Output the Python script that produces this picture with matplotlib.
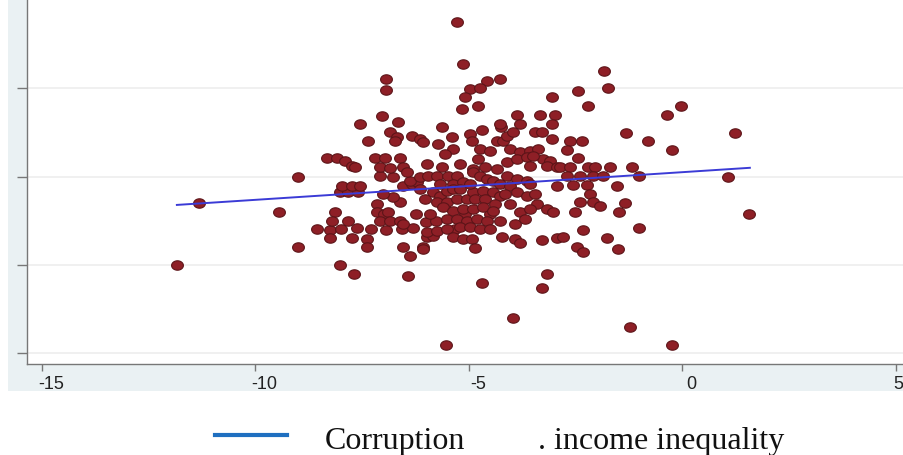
import numpy as np
import matplotlib
matplotlib.use("Agg")
import matplotlib.pyplot as plt
from matplotlib.path import Path
from matplotlib.patches import Rectangle
from matplotlib.lines import Line2D
import matplotlib.transforms as mtrans

plt.rcParams["axes.unicode_minus"] = False

# corruption (x) vs income inequality (y)
corr_left = [-11.84, -11.32, -9.45, -9.00, -9.00]
ineq_left = [0.00, 0.70, 0.60, 1.00, 0.20]

corr_a = [-8.56, -8.26, -8.00, -7.62, -7.30, -6.94, -6.57, -6.31,
          -8.26, -7.74, -7.39, -7.39, -8.02, -7.69, -6.43, -6.55, -6.38,
          -6.08, -5.98, -5.84, -8.14, -8.21, -7.83,
          -7.15, -7.15, -6.99, -6.90, -7.08, -6.85, -6.62, -6.55,
          -6.62, -6.78, -7.01, -6.24, -6.01, -5.77]
ineq_a = [0.41, 0.40, 0.41, 0.42, 0.41, 0.40, 0.41, 0.42,
          0.31, 0.31, 0.29, 0.20, 0.00, -0.10, -0.12, 0.20, 0.10,
          0.20, 0.32, 0.33, 0.60, 0.50, 0.50,
          0.69, 0.60, 0.58, 0.60, 0.50, 0.50, 0.50, 0.46,
          0.71, 0.77, 0.80, 0.58, 0.49, 0.50]

corr_b = [-8.02, -7.83, -7.60, -7.97, -7.74, -7.55,
          -6.55, -6.34, -6.22, -6.38, -6.15, -7.08, -6.78,
          -8.33, -8.09, -7.90, -7.74, -7.67,
          -7.20, -6.97, -6.62, -7.08, -6.85, -6.55, -6.45,
          -7.55, -7.37, -7.04, -6.66, -6.85, -6.69, -6.73, -6.34, -6.15,
          -6.94, -6.94]
ineq_b = [0.83, 0.83, 0.83, 0.89, 0.89, 0.89,
          0.89, 0.92, 0.94, 0.95, 1.00, 1.01, 1.00,
          1.21, 1.21, 1.18, 1.12, 1.11,
          1.21, 1.21, 1.21, 1.11, 1.10, 1.11, 1.05,
          1.60, 1.40, 1.69, 1.62, 1.51, 1.45, 1.40, 1.46, 1.43,
          2.10, 1.98]

corr_c = [-5.28, -5.14, -4.58, -4.27, -4.98, -4.74, -5.09, -4.79, -5.16,
          -5.63, -4.98, -4.70, -4.93, -6.08, -5.73, -5.40, -5.37,
          -4.74, -4.51, -4.34, -4.20, -4.25, -4.11,
          -4.27, -3.88, -3.81, -3.97,
          -3.34, -2.99, -3.45, -3.29, -3.06, -3.06, -3.06,
          -4.04, -3.81, -3.57, -3.38, -3.27, -3.10, -3.17, -2.94,
          -5.98, -5.63, -5.21, -4.91, -4.63, -4.34,
          -4.11, -3.88, -3.64, -3.57, -3.50]
ineq_c = [2.75, 2.27, 2.08, 2.11, 1.99, 2.00, 1.90, 1.80, 1.76,
          1.56, 1.48, 1.53, 1.40, 1.39, 1.37, 1.45, 1.31,
          1.31, 1.29, 1.40, 1.40, 1.56, 1.46,
          1.60, 1.70, 1.60, 1.51,
          1.70, 1.70, 1.51, 1.51, 1.60, 1.90, 1.43,
          1.31, 1.28, 1.29, 1.31, 1.20, 1.18, 1.12, 1.11,
          1.14, 1.11, 1.14, 1.09, 1.11, 1.09,
          1.17, 1.20, 1.22, 1.12, 1.23]

corr_d = [-5.96, -5.75, -5.49, -5.28, -5.37, -5.14,
          -4.91, -4.74, -4.58, -4.44, -4.27, -4.11, -3.88, -3.64,
          -5.84, -5.68, -5.52, -5.37, -5.75, -5.52, -5.28, -5.05,
          -4.91, -4.67, -4.44, -4.27, -4.04, -3.88, -3.64,
          -3.41, -3.17, -3.03]
ineq_d = [1.01, 1.01, 1.01, 1.01, 0.92, 0.94,
          1.05, 1.01, 0.97, 0.95, 0.92, 1.01, 0.97, 0.95,
          0.83, 0.78, 0.84, 0.86, 0.71, 0.71, 0.75, 0.75,
          0.83, 0.84, 0.83, 0.78, 0.89, 0.83, 0.78,
          0.69, 0.63, 0.60]

corr_core = [-6.15, -6.03, -5.91, -5.68, -5.21, -4.98, -5.09, -4.86, -4.63,
             -4.51, -4.16, -4.04, -3.92, -4.27, -4.39, -5.33, -4.79, -5.56,
             -3.57, -3.45]
ineq_core = [0.86, 0.75, 0.58, 0.92, 0.86, 0.92, 0.58, 0.75, 0.75,
             0.58, 0.80, 0.69, 0.46, 0.50, 0.69, 0.41, 1.20, 1.26,
             0.92, 0.80]

corr_e = [-5.61, -5.37, -5.14, -4.91, -4.67, -4.44,
          -5.52, -5.28, -5.05, -4.81, -4.58, -3.81, -3.57, -3.69,
          -5.98, -5.75, -5.52, -5.21, -4.98, -4.74, -4.51,
          -5.37, -5.14, -4.93, -4.86, -6.08, -4.23, -3.92, -3.81,
          -3.29, -2.94, -2.80, -2.47, -2.33,
          -4.70, -3.17, -3.29, -3.97, -5.54]
ineq_e = [0.66, 0.61, 0.63, 0.63, 0.66, 0.61,
          0.52, 0.52, 0.50, 0.52, 0.50, 0.60, 0.63, 0.52,
          0.37, 0.39, 0.41, 0.43, 0.43, 0.41, 0.41,
          0.32, 0.29, 0.29, 0.19, 0.18, 0.32, 0.29, 0.25,
          0.28, 0.31, 0.32, 0.20, 0.15,
          -0.20, -0.10, -0.26, -0.60, -0.91]

corr_right = [-1.84, -1.74, -2.45, -2.21, -0.36, -0.04, -1.32, -0.81, -0.25,
              -2.63, -2.35, -2.70, -2.45,
              -2.87, -2.63, -2.21, -2.05, -1.70, -1.18,
              -2.70, -2.40, -2.10, -1.86, -1.02,
              -2.94, -2.56, -2.24, -1.53,
              -2.17, -2.40, -2.10, -1.35, -1.93,
              -2.52, -1.49, -2.33, -1.02, -1.77, -1.51, -1.23, -0.25,
              1.23, 1.07, 1.56]
ineq_right = [2.20, 2.00, 1.97, 1.80, 1.70, 1.80, 1.49, 1.40, 1.30,
              1.40, 1.40, 1.30, 1.21,
              1.11, 1.11, 1.11, 1.11, 1.11, 1.11,
              1.01, 1.01, 1.01, 1.01, 1.01,
              0.89, 0.91, 0.91, 0.89,
              0.80, 0.71, 0.71, 0.70, 0.67,
              0.60, 0.60, 0.40, 0.42, 0.31, 0.18, -0.70, -0.91,
              1.49, 1.00, 0.58]

# fitted line end points
fit_x = [-11.84, 1.58]
fit_y = [0.68, 1.10]

xticks = [-15, -10, -5, 0, 5]
yticks = [-1, 0, 1, 2]

x = np.array(corr_left + corr_a + corr_b + corr_c + corr_d + corr_core + corr_e + corr_right)
y = np.array(ineq_left + ineq_a + ineq_b + ineq_c + ineq_d + ineq_core + ineq_e + ineq_right)

W, H = 904, 456
fig = plt.figure(figsize=(W / 100, H / 100), dpi=100)
fig.patch.set_facecolor("white")

# stata-like grey panel behind the plot region
fig.patches.append(Rectangle((8 / W, 1 - 392 / H), 1, 392 / H, transform=fig.transFigure,
                             facecolor="#eaf1f3", edgecolor="none", zorder=-5))

ax = fig.add_axes([27 / W, 1 - 365 / H, 1 - 27 / W, 365 / H])
ax.set_zorder(2)
ax.set_facecolor("white")

t = np.linspace(0, 2 * np.pi, 40)
ell = Path(np.c_[np.cos(t), 0.8 * np.sin(t)])

ax.scatter(x, y, marker=ell, s=72, facecolor="#8e1f26", edgecolor="#5c1418",
           linewidths=0.8, zorder=3)
ax.plot(fit_x, fit_y, color="#3b3bd6", lw=1.4, zorder=4)

ax.set_xlim(-15.35, 5.19)
ax.set_ylim(-1.12, 3.01)
ax.set_xticks(xticks)
ax.set_yticks(yticks)
ax.set_yticklabels([])
ax.grid(axis="y", color="#eeeeee", lw=1.2, zorder=0)
ax.set_axisbelow(True)

for s in ["top", "right"]:
    ax.spines[s].set_visible(False)
for s in ["left", "bottom"]:
    ax.spines[s].set_color("#777777")
    ax.spines[s].set_linewidth(1.0)
ax.tick_params(axis="y", length=7, width=1, color="#777777")
ax.tick_params(axis="x", length=5, width=1, color="#777777", pad=3,
               labelsize=13, labelcolor="#222222")
labs = ax.get_xticklabels()
for i, lab in enumerate(labs):
    lab.set_fontfamily(["Liberation Sans", "DejaVu Sans"])
    dx = 0.02 if i == len(labs) - 1 else 0.09
    lab.set_transform(lab.get_transform() + mtrans.ScaledTranslation(dx, 0, fig.dpi_scale_trans))

# legend below
fig.add_artist(Line2D([215 / W, 287 / W], [1 - 436 / H, 1 - 436 / H], transform=fig.transFigure,
                      color="#1f6fc0", lw=3))
fig.text(325 / W, 1 - 449 / H, "Corruption", fontsize=23, va="baseline",
         family=["Liberation Serif", "DejaVu Serif"], color="#111111")
fig.text(538 / W, 1 - 449 / H, ". income inequality", fontsize=23, va="baseline",
         family=["Liberation Serif", "DejaVu Serif"], color="#111111")

fig.savefig("out.png", dpi=100)
